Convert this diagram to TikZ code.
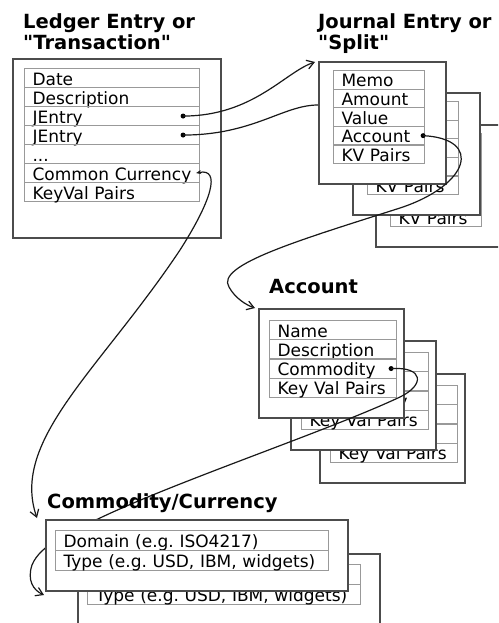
\documentclass[tikz,border=0pt]{standalone}
\usepackage{fontspec}
\setmainfont{DejaVu Sans}[Ligatures=TeXOff]
\usetikzlibrary{arrows.meta,positioning,calc}
\frenchspacing

\begin{document}
\begin{tikzpicture}[
  x=1pt, y=-1pt,
  >={Straight Barb[length=7pt,width=9pt]},
  card/.style={rectangle, draw=black!70, line width=1.8pt, fill=white,
               anchor=north west, inner sep=0pt},
  field/.style={rectangle, draw=black!40, line width=1.1pt, anchor=north west,
                inner xsep=8pt, inner ysep=0pt, text height=15.5pt, text depth=1.5pt,
                align=left, font=\fontsize{17}{19}\selectfont},
  title/.style={font=\fontsize{19.5}{21}\selectfont\bfseries, inner sep=0pt, align=left},
  pin/.style={circle, fill=black, inner sep=0pt, minimum size=5pt},
  ref/.style={draw=black!90, line width=1.2pt},
]
\fill[white] (0,0) rectangle (498,623);
\useasboundingbox (0,0) rectangle (498,623);
\clip (0,0) rectangle (498,623);

% ledger entry
\node[title, anchor=north west] (ledtitle) at (23,13) {Ledger Entry or\\"Transaction"};
\node[card, minimum width=208pt, minimum height=179pt] (led) at (12,58) {};
\foreach \txt [count=\i] in {Date, Description, JEntry, JEntry, ..{}., Common Currency, KeyVal Pairs}
  \node[field, text width=159pt, minimum height=19pt] (led\i) at ($(led.north west)+(12,{10+(\i-1)*19})$) {\mbox{\txt}};

% journal entries, back to front
\node[title, anchor=north west] (jrntitle) at (318,13) {Journal Entry or\\"Split"};
\foreach \n/\dx/\dy in {3/57/63, 2/34/31, 1/0/0} {
  \node[card, minimum width=127pt, minimum height=122pt] (jrn\n) at ({318+\dx},{61+\dy}) {};
  \foreach \txt [count=\i] in {Memo, Amount, Value, Account, KV Pairs}
    \node[field, text width=75pt, minimum height=18.6pt] (jrn\n-\i) at ($(jrn\n.north west)+(15,{9+(\i-1)*18.6})$) {\mbox{\txt}};
}

% accounts
\node[title, anchor=base west] (acctitle) at (269,293) {Account};
\foreach \n/\dx/\dy in {3/61/65, 2/32/32, 1/0/0} {
  \node[card, minimum width=145pt, minimum height=109pt] (acc\n) at ({258+\dx},{308+\dy}) {};
  \foreach \txt [count=\i] in {Name, Description, Commodity, Key Val Pairs}
    \node[field, text width=111pt, minimum height=19.2pt] (acc\n-\i) at ($(acc\n.north west)+(11,{12+(\i-1)*19.2})$) {\mbox{\txt}};
}

% pins
\node[pin] (p1) at ($(led3.east)+(-17,0)$) {};
\node[pin] (p2) at ($(led4.east)+(-17,0)$) {};
\node[pin] (p3) at ($(jrn1-4.east)+(-2,0)$) {};
\node[pin] (p4) at ($(acc1-3.east)+(-6,0)$) {};
\coordinate (p5) at ($(led6.east)+(-4,0)$);
\coordinate (cin) at (44,595);

% links
\draw[ref, ->] (p1.center) .. controls +(70,0) and +(-30,10) .. ($(jrn1.north west)+(-3,1)$);
\draw[ref] (p2.center) .. controls +(70,0) and +(-35,0) .. ($(jrn1.north west)+(0,44)$);
\draw[ref, ->] (p3.center) .. controls +(60,3) and +(70,-23) .. (400,208)
  .. controls +(-100,32) and +(-14,-22) .. (229,287)
  .. controls +(6,11) and +(-9,-3) .. ($(acc1.north west)+(-3,0)$);
\draw[ref, ->] (p4.center) .. controls +(33,-2) and +(25,-12) .. (400,397)
  .. controls +(-70,33) and +(80,-38) .. (100,518)
  .. controls +(-30,14) and +(8,-20) .. (32,565)
  .. controls +(-5,15) and +(-11,-5) .. (cin);

% commodities
\node[title, anchor=base west] (comtitle) at (47,508) {Commodity/Currency};
\foreach \n/\dx/\dy in {2/32/34, 1/0/0} {
  \node[card, minimum width=302pt, minimum height=71pt] (com\n) at ({45+\dx},{519+\dy}) {};
  \foreach \txt [count=\i] in {Domain (e.g. ISO4217), {Type (e.g. USD, IBM, widgets)}}
    \node[field, text width=257pt, minimum height=20pt] (com\n-\i) at ($(com\n.north west)+(10,{11+(\i-1)*20})$) {\mbox{\txt}};
}

\draw[ref, {Stealth[length=5pt,width=4pt]}->] (p5) .. controls +(25,-5) and +(32,-50) .. (180,250)
  .. controls +(-80,120) and +(-27,-78) .. ($(com1.north west)+(-8,-1)$);

\end{tikzpicture}
\end{document}
